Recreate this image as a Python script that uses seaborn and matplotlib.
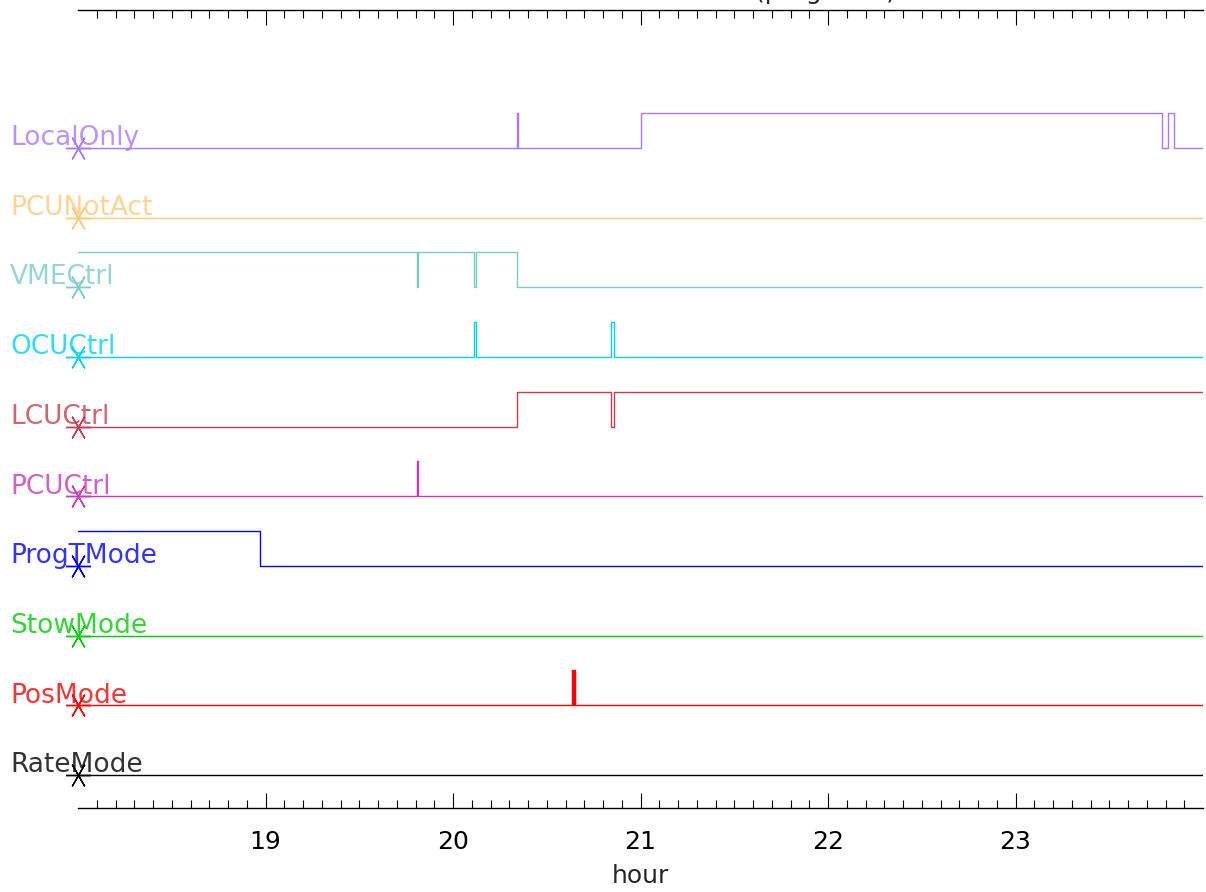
import numpy as np
import pandas as pd
import matplotlib
matplotlib.use("Agg")
import matplotlib.pyplot as plt
from matplotlib.transforms import blended_transform_factory
import seaborn as sns

# ---- data (hours, state 0/1) ----
names = ["RateMode", "PosMode", "StowMode", "ProgTMode", "PCUCtrl",
         "LCUCtrl", "OCUCtrl", "VMECtrl", "PCUNotAct", "LocalOnly"]
colors = ["#000000", "#ff0000", "#00cc00", "#0000ff", "#c838b8",
          "#c83c50", "#00d4f0", "#78ccc8", "#ffc878", "#aa77ff"]

ratemode_t = [18.0, 24.0]
ratemode_v = [0, 0]
posmode_t = [18.0, 20.632, 20.640, 20.644, 20.653, 24.0]
posmode_v = [0, 1, 0, 1, 0, 0]
stowmode_t = [18.0, 24.0]
stowmode_v = [0, 0]
progtmode_t = [18.0, 18.972, 24.0]
progtmode_v = [1, 0, 0]
pcuctrl_t = [18.0, 19.808, 19.813, 24.0]
pcuctrl_v = [0, 1, 0, 0]
lcuctrl_t = [18.0, 20.343, 20.845, 20.857, 24.0]
lcuctrl_v = [0, 1, 0, 1, 1]
ocuctrl_t = [18.0, 20.113, 20.124, 20.845, 20.857, 24.0]
ocuctrl_v = [0, 1, 0, 1, 0, 0]
vmectrl_t = [18.0, 19.808, 19.813, 20.113, 20.124, 20.343, 24.0]
vmectrl_v = [1, 0, 1, 0, 1, 0, 0]
pcunotact_t = [18.0, 24.0]
pcunotact_v = [0, 0]
localonly_t = [18.0, 20.342, 20.347, 21.0, 23.783, 23.815, 23.845, 24.0]
localonly_v = [0, 1, 0, 1, 0, 1, 0, 0]

series_t = [ratemode_t, posmode_t, stowmode_t, progtmode_t, pcuctrl_t,
            lcuctrl_t, ocuctrl_t, vmectrl_t, pcunotact_t, localonly_t]
series_v = [ratemode_v, posmode_v, stowmode_v, progtmode_v, pcuctrl_v,
            lcuctrl_v, ocuctrl_v, vmectrl_v, pcunotact_v, localonly_v]

major_ticks = [19, 20, 21, 22, 23]
xlabel = "hour"
title_text = "(prog time)"

# ---- build long table ----
rows = []
for i, (nm, ts, vs) in enumerate(zip(names, series_t, series_v)):
    for k, (t, v) in enumerate(zip(ts, vs)):
        rows.append({"name": nm, "hour": t, "level": i + 0.5 * v, "order": k})
df = pd.DataFrame(rows)
palette = dict(zip(names, colors))

sns.set_style("white")
plt.rcParams["font.family"] = ["DejaVu Sans"]

W, H = 1206, 892
fig = plt.figure(figsize=(W / 100, H / 100), dpi=100)
ax = fig.add_axes([78 / W, (H - 808) / H, (1203 - 78) / W, (808 - 10) / H])

sns.lineplot(data=df, x="hour", y="level", hue="name", palette=palette,
             units="name", estimator=None, sort=False, drawstyle="steps-post",
             linewidth=1.0, legend=False, ax=ax)

trans = blended_transform_factory(fig.transFigure, ax.transData)
for i, (nm, c) in enumerate(zip(names, colors)):
    ax.plot([18.0], [i], marker=(6, 2, 90), markersize=18,
            markeredgecolor=c, markeredgewidth=1.0, linestyle="none", clip_on=False)
    ax.text(10 / W, i + 0.04, nm, color=c, fontsize=19, va="baseline", ha="left",
            transform=trans, alpha=0.8)

ax.set_xlim(18, 24)
ax.set_ylim(-0.474, 10.98)
ax.set_yticks([])
ax.set_ylabel("")
ax.set_xticks(major_ticks)
ax.set_xticklabels([str(t) for t in major_ticks])
ax.set_xticks(np.arange(18.1, 24.0, 0.1), minor=True)
for s in ["left", "right"]:
    ax.spines[s].set_visible(False)
for s in ["top", "bottom"]:
    ax.spines[s].set_color("black")
    ax.spines[s].set_linewidth(1.0)
ax.tick_params(axis="x", which="both", direction="in", top=True, bottom=True,
               labelbottom=True, labeltop=False, colors="black", width=0.8)
ax.tick_params(axis="x", which="major", length=11, pad=16, labelsize=18)
ax.tick_params(axis="x", which="minor", length=5.5)
ax.set_xlabel(xlabel, fontsize=18, labelpad=7)

fig.text(825 / W, 1.0 + 1.5 / H, title_text, fontsize=18, ha="center", va="baseline")

fig.savefig("out.png", dpi=100)
